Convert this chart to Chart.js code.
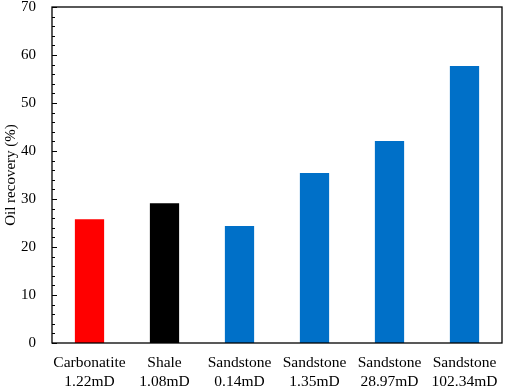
<!DOCTYPE html>
<html>
<head>
<meta charset="utf-8">
<script src="https://cdn.jsdelivr.net/npm/chart.js@4"></script>
<style>
html,body{margin:0;padding:0;background:#fff;}
#wrap{width:505px;height:388px;}
</style>
</head>
<body>
<div id="wrap"><canvas id="c" width="505" height="388"></canvas></div>
<script>
const categories = [["Carbonatite","1.22mD"],["Shale","1.08mD"],["Sandstone","0.14mD"],["Sandstone","1.35mD"],["Sandstone","28.97mD"],["Sandstone","102.34mD"]];
const oilRecovery = [25.8, 29.1, 24.4, 35.4, 42.1, 57.7];
const barColors = ["#FF0000","#000000","#0070C8","#0070C8","#0070C8","#0070C8"];
const yTitle = "Oil recovery (%)";
const FONT = "'Liberation Serif','Times New Roman',serif";

const frame = {
  id:'frame',
  afterDraw(chart){
    const ctx = chart.ctx, a = chart.chartArea, y = chart.scales.y;
    ctx.save();
    ctx.strokeStyle = '#000';
    ctx.lineWidth = 1.3;
    ctx.strokeRect(a.left, a.top, a.right - a.left, a.bottom - a.top);
    ctx.lineWidth = 1;
    for (let v = 0; v <= 70; v += 2) {
      const py = Math.round(y.getPixelForValue(v)) + 0.5;
      const len = (v % 10 === 0) ? 5 : 3;
      ctx.beginPath();
      ctx.moveTo(a.left, py);
      ctx.lineTo(a.left + len, py);
      ctx.stroke();
    }
    ctx.restore();
  }
};

new Chart(document.getElementById('c'), {
  type: 'bar',
  data: {
    labels: categories,
    datasets: [{
      data: oilRecovery,
      backgroundColor: barColors,
      borderWidth: 0,
      categoryPercentage: 1,
      barPercentage: 0.39
    }]
  },
  plugins: [frame],
  options: {
    responsive: false,
    animation: false,
    devicePixelRatio: 1,
    layout: { padding: { left: 2, top: 7, right: 3, bottom: 0 } },
    plugins: { legend: { display: false }, tooltip: { enabled: false } },
    scales: {
      x: {
        grid: { display: false, drawTicks: false },
        border: { display: false },
        ticks: {
          color: '#000',
          font: { family: FONT, size: 15.5 },
          padding: 11,
          maxRotation: 0,
          autoSkip: false
        },
        afterFit(s){ s.height = 45; s.paddingLeft = 0; s.paddingRight = 0; }
      },
      y: {
        min: 0, max: 70,
        grid: { display: false, drawTicks: false },
        border: { display: false },
        ticks: {
          stepSize: 10,
          color: '#000',
          font: { family: FONT, size: 15 },
          padding: 16
        },
        title: {
          display: true,
          text: yTitle,
          color: '#000',
          font: { family: FONT, size: 15 },
          padding: 0
        },
        afterFit(s){ s.width = 50; s.paddingTop = 0; s.paddingBottom = 0; }
      }
    }
  }
});
</script>
</body>
</html>
